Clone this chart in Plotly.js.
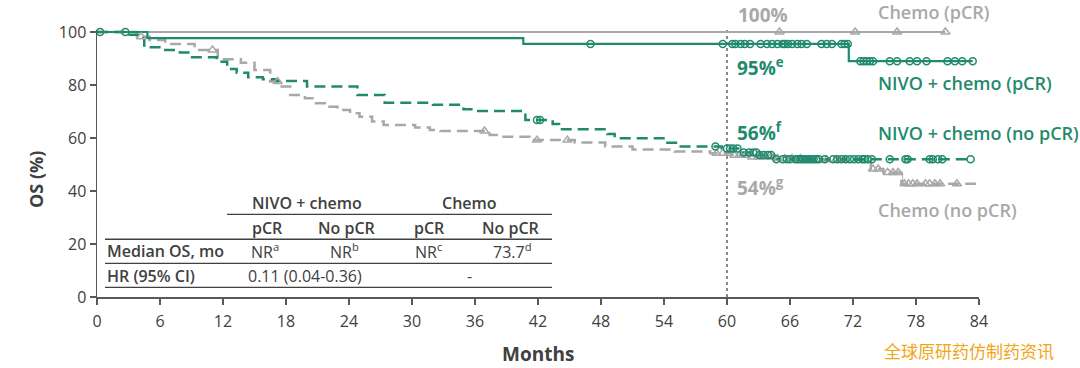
<!DOCTYPE html>
<html><head><meta charset="utf-8">
<script src="https://cdn.plot.ly/plotly-3.0.1.min.js"></script>
<style>html,body{margin:0;padding:0;background:#fff}#chart{width:1080px;height:368px}</style>
</head><body><div id="chart"></div>
<script>
const GREEN = '#1f8a6c';
const GRAY = '#a8a8a8';
const DARK = '#404040';

// ---- Data (months, OS %) ----
// Chemo (pCR)
const chemoPcrT = [0, 80.8];
const chemoPcrS = [100, 100];
const chemoPcrCens = [65.0, 72.2, 76.2, 80.8];

// NIVO + chemo (pCR)
const nivoPcrT = [0, 4.8, 40.6, 71.6, 83.4];
const nivoPcrS = [100, 97.7, 95.5, 89.0, 89.0];
const nivoPcrCens = [0.3, 47.0, 59.6, 60.5, 60.8, 61.3, 61.7, 62.2, 63.2, 63.8, 64.3, 64.8, 65.3, 65.5, 65.8, 66.2, 66.7, 67.1, 67.6, 69.0, 69.5, 70.0, 70.9, 71.2, 71.5,
  72.7, 73.0, 73.3, 73.6, 73.9, 75.5, 76.2, 77.4, 78.1, 79.0, 81.0, 81.7, 82.4, 83.4];

// NIVO + chemo (no pCR)
const nivoNoT = [0, 3.1, 3.9, 4.5, 6.5, 7.9, 8.9, 11.4, 12.4, 13.3, 14.4, 15.8, 17.1, 20.0, 24.8, 27.4, 32.0, 34.9, 36.0, 40.8, 43.4, 44.0, 48.6, 49.3, 54.1, 55.3, 59.5, 61.3, 62.9, 64.5, 83.2];
const nivoNoS = [100, 99.0, 97.8, 94.2, 93.2, 92.3, 90.5, 88.8, 86.0, 84.6, 82.9, 82.2, 81.5, 79.4, 76.2, 73.3, 72.5, 70.8, 70.2, 66.8, 65.3, 63.3, 61.5, 59.9, 58.2, 56.8, 56.0, 54.5, 53.6, 52.0, 52.0];
const nivoNoCens = [2.7, 41.9, 42.2, 58.9, 60.0, 60.3, 60.6, 61.0, 61.6, 62.1, 62.5, 62.8, 63.1, 63.5, 63.9, 64.2, 64.7, 65.3, 65.7, 66.0, 66.5, 66.75, 67.0, 67.25, 67.5, 67.75, 68.0, 68.25, 68.5, 68.75, 69.3,
  70.1, 70.5, 70.9, 71.3, 71.7, 72.1, 72.5, 72.9, 73.1, 73.4, 73.8, 75.5, 77.0, 77.2, 79.3, 79.6, 80.1, 80.5, 83.2];

// Chemo (no pCR)
const chemoNoT = [0, 3.8, 5.0, 6.5, 9.3, 11.5, 13.7, 15.0, 16.5, 17.4, 18.4, 19.8, 20.7, 21.7, 22.9, 24.1, 25.0, 26.2, 27.3, 30.3, 31.7, 32.7, 37.4, 38.4, 41.2, 45.5, 48.4, 51.0, 55.0, 58.4, 60.4, 62.2, 64.5, 67.5, 73.7, 74.9, 76.6, 84.6];
const chemoNoS = [100, 98.2, 97.0, 95.5, 93.2, 89.7, 88.4, 85.7, 81.3, 79.4, 76.2, 75.0, 73.1, 71.8, 70.6, 69.3, 68.0, 66.2, 64.9, 64.0, 63.0, 62.6, 61.1, 60.5, 59.2, 58.3, 56.8, 55.7, 54.9, 54.2, 53.5, 52.8, 52.3, 51.8, 48.3, 47.0, 42.7, 42.7];
const chemoNoCens = [4.2, 11.0, 17.2, 36.9, 41.9, 44.8, 59.0, 59.6, 60.2, 60.7, 61.2, 61.8, 62.4, 63.0, 63.6, 64.2, 64.8, 65.5, 66.2, 67.0, 67.8, 68.6, 69.5, 70.4, 71.2,
  73.9, 74.4, 75.3, 75.8, 76.3, 76.9, 77.3, 77.7, 78.1, 78.9, 79.3, 79.8, 80.3, 81.9, 84.6];

// Table
const tableGroups = ['NIVO + chemo', 'Chemo'];
const tableCols = ['pCR', 'No pCR', 'pCR', 'No pCR'];
const tableRowLabels = ['Median OS, mo', 'HR (95% CI)'];
const medianOS = ['NR<sup>a</sup>', 'NR<sup>b</sup>', 'NR<sup>c</sup>', '73.7<sup>d</sup>'];
const hrValues = ['0.11 (0.04-0.36)', '-'];

// Curve labels
const curveLabels = ['Chemo (pCR)', 'NIVO + chemo (pCR)', 'NIVO + chemo (no pCR)', 'Chemo (no pCR)'];
const pctLabels = ['100%', '95%<sup>e</sup>', '56%<sup>f</sup>', '54%<sup>g</sup>'];

function stepAt(t, T, S) {
  let v = S[0];
  for (let i = 0; i < T.length; i++) { if (T[i] <= t) v = S[i]; }
  return v;
}

function curve(T, S, color, dash, width) {
  return {x: T, y: S, type: 'scatter', mode: 'lines', line: {shape: 'hv', color: color, width: width, dash: dash}, hoverinfo: 'skip'};
}
function cens(C, T, S, color, symbol, size) {
  return {x: C, y: C.map(t => stepAt(t, T, S)), type: 'scatter', mode: 'markers', cliponaxis: false,
    marker: {symbol: symbol, size: size, color: color, line: {color: color, width: 1.5}}, hoverinfo: 'skip'};
}

const traces = [
  curve(chemoPcrT, chemoPcrS, GRAY, 'solid', 2),
  curve(chemoNoT, chemoNoS, GRAY, '11px,6px', 2.5),
  curve(nivoNoT, nivoNoS, GREEN, '11px,6px', 2.5),
  curve(nivoPcrT, nivoPcrS, GREEN, 'solid', 2.2),
  cens(chemoPcrCens, chemoPcrT, chemoPcrS, GRAY, 'triangle-up-open', 8),
  cens(chemoNoCens, chemoNoT, chemoNoS, GRAY, 'triangle-up-open', 8),
  cens(nivoNoCens, nivoNoT, nivoNoS, GREEN, 'circle-open', 7),
  cens(nivoPcrCens, nivoPcrT, nivoPcrS, GREEN, 'circle-open', 7)
];

const FONT = '"Open Sans", "Noto Sans", sans-serif';
const ann = [];
function A(text, x, y, opts) {
  ann.push(Object.assign({text: text, x: x, y: y, xref: 'x', yref: 'y', showarrow: false, xanchor: 'center', yanchor: 'middle',
    font: {family: FONT, size: 16, color: DARK}}, opts || {}));
}
// curve labels
const bigG = {family: FONT, size: 18, color: GREEN, weight: 600};
const bigGr = {family: FONT, size: 18, color: GRAY, weight: 600};
const pctG = {family: FONT, size: 19, color: GREEN, weight: 700};
const pctGr = {family: FONT, size: 19, color: GRAY, weight: 700};
A(pctLabels[0], 60.9, (297 - 15) / 267, {xanchor: 'left', yref: 'paper', font: pctGr});
A(curveLabels[0], 74.2, (297 - 12) / 267, {xanchor: 'left', yref: 'paper', font: bigGr});
A(pctLabels[1], 60.8, 86.8, {xanchor: 'left', font: pctG});
A(curveLabels[1], 74.2, 80.8, {xanchor: 'left', font: bigG});
A(pctLabels[2], 60.8, 62.3, {xanchor: 'left', font: pctG});
A(curveLabels[2], 74.2, 62.0, {xanchor: 'left', font: bigG});
A(pctLabels[3], 60.8, 41.5, {xanchor: 'left', font: pctGr});
A(curveLabels[3], 74.2, 32.8, {xanchor: 'left', font: bigGr});
A('1', 76.7, 45.5, {font: {family: FONT, size: 11, color: GRAY}});

// table
const hdr = {family: FONT, size: 16, color: DARK, weight: 600};
const cell = {family: FONT, size: 16, color: DARK};
A(tableGroups[0], 20.0, 35.5, {font: hdr});
A(tableGroups[1], 35.5, 35.5, {font: hdr});
const colX = [16.2, 23.8, 31.7, 39.4];
tableCols.forEach((c, i) => A(c, colX[i], 26.0, {font: hdr}));
A(tableRowLabels[0], 0.76, 17.4, {xanchor: 'left', font: hdr});
A(tableRowLabels[1], 0.76, 7.9, {xanchor: 'left', font: hdr});
const medX = [16.0, 23.6, 31.6, 39.6];
medianOS.forEach((m, i) => A(m, medX[i], 17.4, {font: cell}));
A(hrValues[0], 19.8, 7.9, {font: cell});
A(hrValues[1], 35.5, 7.9, {font: cell});

// axis titles
ann.push({text: '<b>OS (%)</b>', xref: 'paper', yref: 'paper', x: (36 - 97) / 882, y: (297 - 180) / 267, textangle: -90,
  showarrow: false, xanchor: 'center', yanchor: 'middle', font: {family: FONT, size: 18, color: DARK}});
ann.push({text: '<b>Months</b>', xref: 'paper', yref: 'paper', x: 0.5, y: (297 - 354) / 267,
  showarrow: false, xanchor: 'center', yanchor: 'middle', font: {family: FONT, size: 19, color: DARK}});
ann.push({text: '全球原研药仿制药资讯', xref: 'paper', yref: 'paper', x: (882 - 97) / 882, y: (297 - 350) / 267,
  showarrow: false, xanchor: 'left', yanchor: 'middle', font: {family: '"Noto Sans CJK SC", sans-serif', size: 17, color: '#f2a516'}});

const lineStyle = {color: DARK, width: 1.3};
const shapes = [
  {type: 'line', xref: 'x', yref: 'y', x0: 12.38, x1: 43.33, y0: 31.2, y1: 31.2, line: lineStyle},
  {type: 'line', xref: 'x', yref: 'y', x0: 0.76, x1: 43.33, y0: 21.8, y1: 21.8, line: lineStyle},
  {type: 'line', xref: 'x', yref: 'y', x0: 0.76, x1: 43.33, y0: 12.7, y1: 12.7, line: lineStyle},
  {type: 'line', xref: 'x', yref: 'y', x0: 0.76, x1: 43.33, y0: 3.66, y1: 3.66, line: lineStyle},
  {type: 'line', xref: 'x', yref: 'paper', x0: 60, x1: 60, y0: 0, y1: 1, line: {color: '#666', width: 1.5, dash: 'dot'}, layer: 'below'}
];

const layout = {
  width: 1080, height: 368,
  margin: {l: 97, r: 101, t: 30, b: 71},
  paper_bgcolor: '#fff', plot_bgcolor: '#fff',
  showlegend: false,
  font: {family: FONT, color: DARK},
  xaxis: {range: [0, 84], tickvals: [0, 6, 12, 18, 24, 30, 36, 42, 48, 54, 60, 66, 72, 78, 84], ticks: 'outside', ticklen: 6,
    tickcolor: '#595959', tickwidth: 1.5, showline: true, linecolor: '#595959', linewidth: 1.5, showgrid: false, zeroline: false,
    tickfont: {family: FONT, size: 16, color: DARK}, ticklabelstandoff: 3, fixedrange: true},
  yaxis: {range: [0, 100.75], tickvals: [0, 20, 40, 60, 80, 100], ticks: 'outside', ticklen: 6,
    tickcolor: '#595959', tickwidth: 1.5, showline: true, linecolor: '#595959', linewidth: 1.5, showgrid: false, zeroline: false,
    tickfont: {family: FONT, size: 16, color: DARK}, fixedrange: true},
  annotations: ann,
  shapes: shapes
};

Plotly.newPlot('chart', traces, layout, {staticPlot: true, displayModeBar: false});
</script>
</body></html>
